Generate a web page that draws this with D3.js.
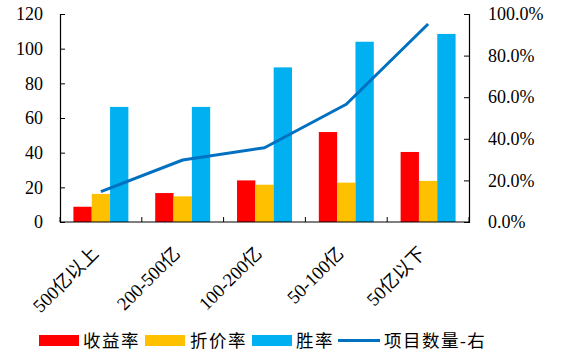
<!DOCTYPE html>
<html><head><meta charset="utf-8">
<script src="https://cdn.jsdelivr.net/npm/d3@7"></script>
<style>body{margin:0;background:#fff}</style>
</head><body>
<svg id="c" width="570" height="359"></svg>
<script>
const categories = ["500亿以上","200-500亿","100-200亿","50-100亿","50亿以下"];
const seriesNames = ["收益率","折价率","胜率"];
const yield_ = [8.8, 16.7, 24.0, 51.9, 40.4];
const discount = [16.2, 14.8, 21.5, 22.7, 23.7];
const winRate = [66.4, 66.4, 89.2, 104.0, 108.5];
const projectCount = [0.146, 0.298, 0.357, 0.566, 0.952];
const leftTicks = [0,20,40,60,80,100,120];
const rightTicks = [0,0.2,0.4,0.6,0.8,1.0];
const colors = ["#FF0000","#FFC000","#00B0F0"];
const lineColor = "#0070C0";
const lineName = "项目数量-右";

const svg = d3.select("#c");
const L = 60, R = 469, T = 14, B = 222;
const font = "'Liberation Serif','Times New Roman','Noto Sans CJK SC',serif";

const x0 = d3.scaleBand().domain(categories).range([L,R]).paddingInner(0.328).paddingOuter(0.164);
const x1 = d3.scaleBand().domain(seriesNames).range([0,x0.bandwidth()]);
const y = d3.scaleLinear().domain([0,120]).range([B,T]);
const y2 = d3.scaleLinear().domain([0,1]).range([B,T]);

const series = [yield_, discount, winRate];
series.forEach((vals,si)=>{
  svg.append("g").selectAll("rect").data(vals).join("rect")
    .attr("x",(d,i)=>x0(categories[i])+x1(seriesNames[si]))
    .attr("width",x1.bandwidth())
    .attr("y",d=>y(d))
    .attr("height",d=>B-y(d))
    .attr("fill",colors[si]);
});

// line
const line = d3.line().x((d,i)=>x0(categories[i])+x0.bandwidth()/2).y(d=>y2(d));
svg.append("path").datum(projectCount).attr("d",line)
  .attr("fill","none").attr("stroke",lineColor).attr("stroke-width",3).attr("stroke-linejoin","round");

// left axis
const la = svg.append("g").attr("transform",`translate(${L},0)`)
  .call(d3.axisLeft(y).tickValues(leftTicks).tickSize(-5).tickPadding(17).tickFormat(d3.format("d")));
// right axis
const ra = svg.append("g").attr("transform",`translate(${R},0)`)
  .call(d3.axisRight(y2).tickValues(rightTicks).tickSize(-5).tickPadding(19).tickFormat(d3.format(".1%")));
// bottom axis with ticks at category boundaries
const step = x0.step();
const bounds = d3.range(categories.length+1).map(i=>L+i*step);
const ba = svg.append("g").attr("transform",`translate(0,${B})`);
ba.append("line").attr("x1",L).attr("x2",R).attr("stroke","#000").attr("stroke-width",1.2);
ba.selectAll("line.t").data(bounds).join("line").attr("class","t")
  .attr("x1",d=>d).attr("x2",d=>d).attr("y1",0).attr("y2",-5).attr("stroke","#000");
ba.selectAll("text").data(categories).join("text")
  .attr("transform",d=>`translate(${x0(d)+x0.bandwidth()/2-6},${28}) rotate(-45)`)
  .attr("text-anchor","end").attr("dy","0.35em")
  .attr("font-family",font).attr("font-size",18.5).attr("fill","#000").text(d=>d);

[la,ra].forEach(a=>{
  a.select(".domain").attr("stroke","#000").attr("stroke-width",1.2);
  a.selectAll(".tick line").attr("stroke","#000");
  a.selectAll("text").attr("font-family",font).attr("font-size",18).attr("fill","#000");
});

// legend
const lg = svg.append("g");
const items = [
  {type:"rect",c:colors[0],t:seriesNames[0],x:39,tx:83},
  {type:"rect",c:colors[1],t:seriesNames[1],x:145,tx:190},
  {type:"rect",c:colors[2],t:seriesNames[2],x:252,tx:296},
  {type:"line",c:lineColor,t:lineName,x:338,tx:384}
];
items.forEach(it=>{
  if(it.type==="rect") lg.append("rect").attr("x",it.x).attr("y",335).attr("width",40).attr("height",11).attr("fill",it.c);
  else lg.append("line").attr("x1",it.x).attr("x2",it.x+42).attr("y1",340.5).attr("y2",340.5).attr("stroke",it.c).attr("stroke-width",3);
  lg.append("text").attr("x",it.tx).attr("y",341).attr("dy","0.35em")
    .attr("font-family",font).attr("font-size",17.5).attr("letter-spacing",1.5).attr("fill","#000").text(it.t);
});
</script>
</body></html>
